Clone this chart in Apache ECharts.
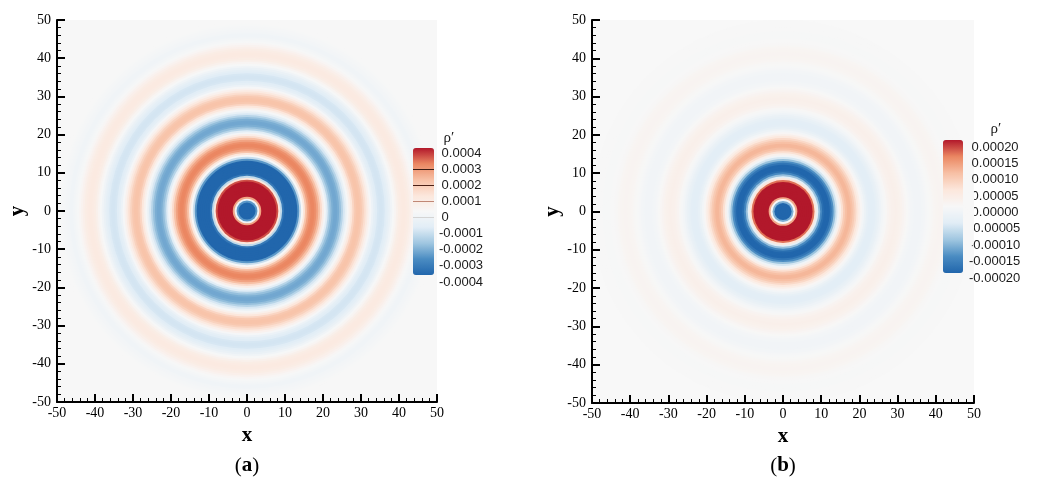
<!DOCTYPE html>
<html>
<head>
<meta charset="utf-8">
<script src="https://cdn.jsdelivr.net/npm/echarts@6/dist/echarts.min.js"></script>
<style>
  html, body { margin: 0; padding: 0; background: #ffffff; }
  #chart { width: 1040px; height: 483px; }
</style>
</head>
<body>
<div id="chart"></div>
<script>
// Radial sampling positions (same for both panels)
const radii = [
  0, 0.5, 1, 1.5, 2, 2.5, 3, 3.5, 4, 4.5,
  5, 5.5, 6, 6.5, 7, 7.5, 8, 8.5, 9, 9.5,
  10, 10.5, 11, 11.5, 12, 12.5, 13, 13.5, 14, 14.5,
  15, 15.5, 16, 16.5, 17, 17.5, 18, 18.5, 19, 19.5,
  20, 20.5, 21, 21.5, 22, 22.5, 23, 23.5, 24, 24.5,
  25, 25.5, 26, 26.5, 27, 27.5, 28, 28.5, 29, 29.5,
  30, 30.5, 31, 31.5, 32, 32.5, 33, 33.5, 34, 34.5,
  35, 35.5, 36, 36.5, 37, 37.5, 38, 38.5, 39, 39.5,
  40, 40.5, 41, 41.5, 42, 42.5, 43, 43.5, 44, 44.5,
  45, 45.5, 46, 46.5, 47, 47.5, 48, 48.5, 49, 49.5,
  50
];

// Density perturbation rho' along the radius, panel (a)
const rhoA = [
  -0.00070, -0.00070, -0.00068, -0.00062, -0.00050, -0.00028, -0.00003, 0.00025, 0.00055, 0.00080,
  0.00095, 0.00100, 0.00098, 0.00090, 0.00075, 0.00055, 0.00035, 0.00010, -0.00015, -0.00035,
  -0.00050, -0.00058, -0.00062, -0.00063, -0.00060, -0.00053, -0.00042, -0.00028, -0.00014, 0.00000,
  0.00010, 0.00019, 0.00025, 0.000285, 0.00030, 0.00030, 0.000285, 0.00025, 0.00020, 0.00013,
  0.00006, -0.00002, -0.00010, -0.000165, -0.000212, -0.000242, -0.000253, -0.000253, -0.000242, -0.000212,
  -0.000165, -0.000115, -0.000063, -0.00001, 0.000045, 0.00010, 0.000145, 0.00018, 0.00019, 0.00019,
  0.00018, 0.000155, 0.00012, 0.00008, 0.000035, -0.00001, -0.00005, -0.00008, -0.00010, -0.000115,
  -0.00012, -0.00012, -0.000115, -0.00010, -0.00008, -0.00006, -0.00003, -0.000005, 0.00002, 0.000045,
  0.000065, 0.000075, 0.00008, 0.00008, 0.000075, 0.000065, 0.00005, 0.00003, 0.00001, -0.000005,
  -0.000015, -0.000025, -0.00003, -0.00003, -0.000025, -0.00002, -0.000015, -0.00001, -0.000005, 0,
  0
];

// Density perturbation rho' along the radius, panel (b)
const rhoB = [
  -0.00040, -0.00040, -0.00038, -0.00033, -0.00025, -0.00012, 0.00000, 0.00012, 0.00025, 0.00035,
  0.00042, 0.00045, 0.00045, 0.00042, 0.00036, 0.00027, 0.00016, 0.00005, -0.00004, -0.000105,
  -0.000155, -0.00019, -0.000206, -0.00021, -0.000202, -0.00018, -0.000148, -0.000103, -0.000058, -0.000016,
  0.000022, 0.000058, 0.000085, 0.00010, 0.000108, 0.000108, 0.00010, 0.000086, 0.000068, 0.000048,
  0.000026, 0.000005, -0.000012, -0.000026, -0.000036, -0.000043, -0.000046, -0.000046, -0.000043, -0.000037,
  -0.000030, -0.000021, -0.000012, -0.000004, 0.000004, 0.000011, 0.000017, 0.000021, 0.000023, 0.000024,
  0.000023, 0.000020, 0.000016, 0.000011, 0.000006, 0.000001, -0.000004, -0.000008, -0.000011, -0.000013,
  -0.000014, -0.000014, -0.000013, -0.000011, -0.000008, -0.000005, -0.000002, 0.000001, 0.000004, 0.000007,
  0.000009, 0.0000105, 0.000011, 0.000011, 0.0000105, 0.000009, 0.000007, 0.0000045, 0.000002, 0,
  -0.000001, -0.0000015, -0.000002, -0.000002, -0.0000015, -0.000001, -0.0000005, 0, 0, 0,
  0
];

// Colour-bar tick labels, bottom to top
const cbarLabelsA = ['-0.0004', '-0.0003', '-0.0002', '-0.0001', '0', '0.0001', '0.0002', '0.0003', '0.0004'];
const cbarLabelsB = ['-0.00020', '-0.00015', '-0.00010', '-0.00005', '0.00000', '0.00005', '0.00010', '0.00015', '0.00020'];

// Contour-line markers shown on the first colour bar
const contourLevelsA = ['0.0003', '0.0002', '0.0001', '0'];
const contourColorsA = ['#3a1c14', '#4a2016', '#c08876', '#d4d4d4'];

const rdBu = ['#2166ac', '#4a8cc2', '#9fc6e0', '#e1edf6', '#f7f7f7', '#fce7dc', '#f7c0a5', '#eb8762', '#b2182b'];
const serif = "'Liberation Serif', 'DejaVu Serif', serif";
const sans = "'Liberation Sans', Arial, sans-serif";
const HALF_STEP = 0.25;

// Largest disc first so smaller ones paint on top, giving filled rings
function ringData(values) {
  return radii.map((r, i) => [r, values[i]]).reverse();
}

function renderRing(params, api) {
  const c = api.coord([0, 0]);
  const edge = api.coord([api.value(0) + HALF_STEP, 0]);
  return {
    type: 'circle',
    shape: { cx: c[0], cy: c[1], r: Math.max(edge[0] - c[0], 0) },
    style: { fill: api.visual('color') }
  };
}

function mainXAxis(gridIndex) {
  return {
    gridIndex, type: 'value', min: -50, max: 50, interval: 10, z: 10,
    name: 'x', nameLocation: 'middle', nameGap: 11,
    nameTextStyle: { fontFamily: serif, fontSize: 21, fontWeight: 'bold', color: '#000' },
    axisLine: { show: true, onZero: false, lineStyle: { color: '#000', width: 2 } },
    axisTick: { show: true, inside: true, length: 8, lineStyle: { color: '#000', width: 2 } },
    minorTick: { show: true, splitNumber: 5, length: 4, lineStyle: { color: '#000', width: 1 } },
    splitLine: { show: false },
    axisLabel: { fontFamily: serif, fontSize: 14, color: '#000', margin: 4 }
  };
}

function mainYAxis(gridIndex) {
  return {
    gridIndex, type: 'value', min: -50, max: 50, interval: 10, z: 10,
    name: 'y', nameLocation: 'middle', nameGap: 27,
    nameTextStyle: { fontFamily: serif, fontSize: 21, fontWeight: 'bold', color: '#000' },
    axisLine: { show: true, onZero: false, lineStyle: { color: '#000', width: 2 } },
    axisTick: { show: true, inside: true, length: 8, lineStyle: { color: '#000', width: 2 } },
    minorTick: { show: true, splitNumber: 5, length: 4, lineStyle: { color: '#000', width: 1 } },
    splitLine: { show: false },
    axisLabel: { fontFamily: serif, fontSize: 14, color: '#000', margin: 6 }
  };
}

function cbarYAxis(gridIndex, labels, margin) {
  return {
    gridIndex, type: 'category', data: labels, boundaryGap: false, position: 'right',
    axisLine: { show: false }, axisTick: { show: false }, splitLine: { show: false },
    axisLabel: {
      interval: 0, hideOverlap: false,
      fontFamily: sans, fontSize: 13, color: '#1a1a1a', margin,
      formatter: (v) => (v.charAt(0) === '-' ? v : '\u2009' + v)
    }
  };
}

const chart = echarts.init(document.getElementById('chart'), null, { renderer: 'canvas' });

chart.setOption({
  backgroundColor: '#ffffff',
  animation: false,
  grid: [
    { left: 57, top: 20, width: 380, height: 382, show: true, backgroundColor: '#f7f7f7', borderWidth: 0 },
    { left: 592, top: 20, width: 382, height: 383, show: true, backgroundColor: '#f8f8f8', borderWidth: 0 },
    { left: 413, top: 153, width: 21, height: 129 },
    { left: 943, top: 147, width: 20, height: 131 }
  ],
  xAxis: [
    mainXAxis(0),
    mainXAxis(1),
    { gridIndex: 2, type: 'value', min: 0, max: 1, show: false },
    { gridIndex: 3, type: 'value', min: 0, max: 1, show: false }
  ],
  yAxis: [
    mainYAxis(0),
    mainYAxis(1),
    cbarYAxis(2, cbarLabelsA, 5),
    cbarYAxis(3, cbarLabelsB, 6)
  ],
  visualMap: [
    {
      type: 'continuous', seriesIndex: 0, dimension: 1,
      min: -0.0004, max: 0.0004, calculable: false, realtime: false,
      orient: 'vertical', left: 413, top: 148, itemWidth: 21, itemHeight: 127,
      padding: 0, text: null, hoverLink: false,
      inRange: { color: rdBu }
    },
    {
      type: 'continuous', seriesIndex: 1, dimension: 1,
      min: -0.0002, max: 0.0002, calculable: false, realtime: false,
      orient: 'vertical', left: 943, top: 140, itemWidth: 20, itemHeight: 133,
      padding: 0, text: null, hoverLink: false,
      inRange: { color: rdBu }
    }
  ],
  series: [
    {
      type: 'custom', name: 'rhoA', xAxisIndex: 0, yAxisIndex: 0, clip: true,
      renderItem: renderRing, data: ringData(rhoA), silent: true
    },
    {
      type: 'custom', name: 'rhoB', xAxisIndex: 1, yAxisIndex: 1, clip: true,
      renderItem: renderRing, data: ringData(rhoB), silent: true
    },
    {
      type: 'line', xAxisIndex: 2, yAxisIndex: 2, data: [], z: 10, silent: true,
      markLine: {
        silent: true, symbol: ['none', 'none'], label: { show: false },
        data: contourLevelsA.map((lv, i) => ({ yAxis: lv, lineStyle: { color: contourColorsA[i], width: 1, type: 'solid' } }))
      }
    }
  ],
  graphic: [
    { type: 'text', x: 449, y: 138, style: { text: 'ρ′', font: '15px ' + serif, fill: '#1a1a1a', align: 'center', verticalAlign: 'middle' } },
    { type: 'text', x: 996, y: 129, style: { text: 'ρ′', font: '15px ' + serif, fill: '#1a1a1a', align: 'center', verticalAlign: 'middle' } },
    {
      type: 'text', x: 247, y: 466,
      style: {
        text: '{n|(}{b|a}{n|)}', align: 'center', verticalAlign: 'middle',
        rich: { n: { fontFamily: serif, fontSize: 21, fill: '#000' }, b: { fontFamily: serif, fontSize: 21, fontWeight: 'bold', fill: '#000' } }
      }
    },
    {
      type: 'text', x: 783, y: 466,
      style: {
        text: '{n|(}{b|b}{n|)}', align: 'center', verticalAlign: 'middle',
        rich: { n: { fontFamily: serif, fontSize: 21, fill: '#000' }, b: { fontFamily: serif, fontSize: 21, fontWeight: 'bold', fill: '#000' } }
      }
    }
  ]
});
</script>
</body>
</html>
